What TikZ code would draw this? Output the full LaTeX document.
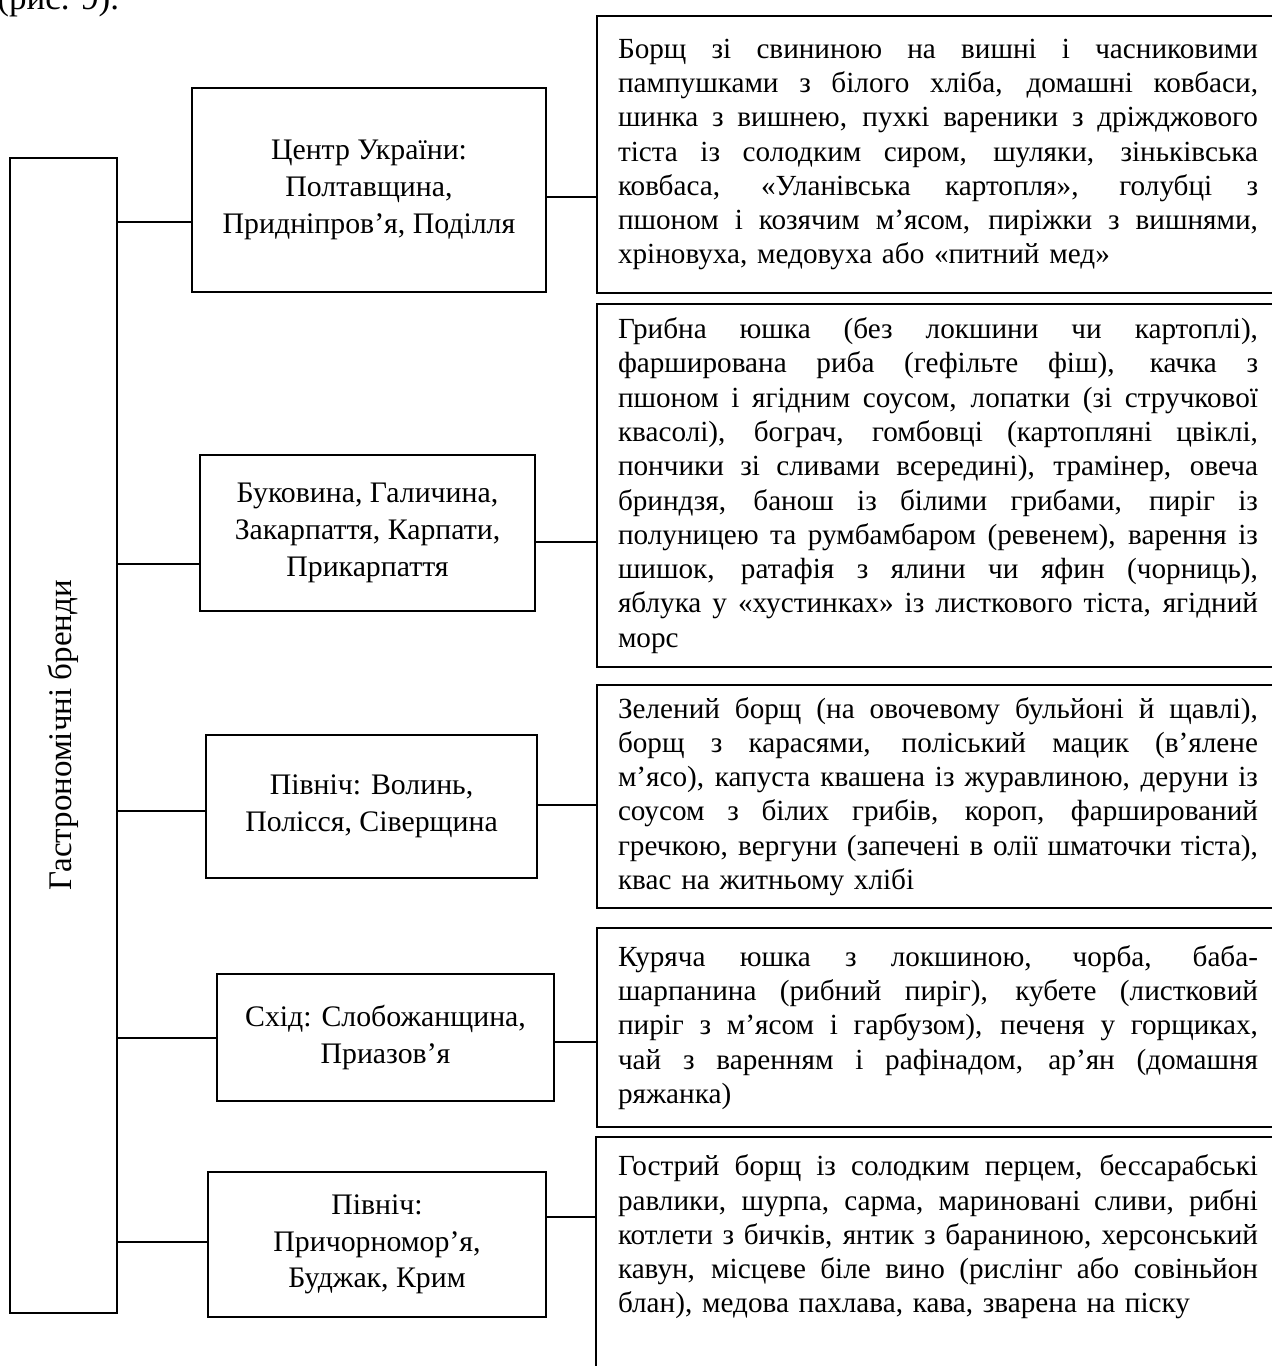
\documentclass[tikz,border=0pt]{standalone}
\usepackage{fontspec}
\setmainfont{Liberation Serif}
\newlength\rw
\setlength\rw{320pt}
\newcommand\jl[1]{\noindent\hbox to\rw{\spaceskip=.25em plus 1fil\relax #1}\par}
\newcommand\lastln[1]{\noindent #1\par}
\begin{document}
\begin{tikzpicture}[x=0.5pt,y=-0.5pt,
  conn/.style={line width=1pt},
  midbox/.style={draw, line width=1pt, align=center, inner sep=0pt,
    font=\fontsize{14.9}{18.3}\selectfont},
  rbox/.style={draw, line width=1pt, anchor=north west, text width=320pt,
    inner xsep=10.5pt, inner ysep=0pt, font=\fontsize{14.6}{17.15}\selectfont},
  tallbox/.style={draw, line width=1pt, rotate=90, inner sep=0pt,
    font=\fontsize{16.5}{19}\selectfont}]
\useasboundingbox (0,0) rectangle (1271,1366);

\node[anchor=base west, inner sep=0pt, font=\fontsize{17.5}{20}\selectfont] (fig) at (-3,9) {(рис. 9).};

\node[tallbox, minimum width=577.5pt, minimum height=53.5pt] (tall) at (63.5,735.5) {Гастрономічні бренди};

\node[midbox, minimum width=177pt, minimum height=102pt] (m1) at (369,190) {Центр України:\\Полтавщина,\\Придніпров’я, Поділля};
\node[midbox, minimum width=167.5pt, minimum height=78pt] (m2) at (367.5,533) {Буковина, Галичина,\\Закарпаття, Карпати,\\Прикарпаття};
\node[midbox, minimum width=165.5pt, minimum height=71.5pt] (m3) at (371.5,806.5) {Північ: Волинь,\\Полісся, Сіверщина};
\node[midbox, minimum width=168.5pt, minimum height=63.5pt] (m4) at (385.5,1037.5) {Схід: Слобожанщина,\\Приазов’я};
\node[midbox, minimum width=169pt, minimum height=72.5pt] (m5) at (377,1244.5) {Північ:\\Причорномор’я,\\Буджак, Крим};

\node[rbox, minimum height=138.5pt] (r1) at (596,15) {%
\jl{Борщ зі свининою на вишні і часниковими}%
\jl{пампушками з білого хліба, домашні ковбаси,}%
\jl{шинка з вишнею, пухкі вареники з дріжджового}%
\jl{тіста із солодким сиром, шуляки, зіньківська}%
\jl{ковбаса, «Уланівська картопля», голубці з}%
\jl{пшоном і козячим м’ясом, пиріжки з вишнями,}%
\lastln{хріновуха, медовуха або «питний мед»}};

\node[rbox, minimum height=181.5pt] (r2) at (596,303) {%
\jl{Грибна юшка (без локшини чи картоплі),}%
\jl{фарширована риба (гефільте фіш), качка з}%
\jl{пшоном і ягідним соусом, лопатки (зі стручкової}%
\jl{квасолі), бограч, гомбовці (картопляні цвіклі,}%
\jl{пончики зі сливами всередині), трамінер, овеча}%
\jl{бриндзя, банош із білими грибами, пиріг із}%
\jl{полуницею та румбамбаром (ревенем), варення із}%
\jl{шишок, ратафія з ялини чи яфин (чорниць),}%
\jl{яблука у «хустинках» із листкового тіста, ягідний}%
\lastln{морс}};

\node[rbox, minimum height=111.5pt] (r3) at (596,684) {%
\jl{Зелений борщ (на овочевому бульйоні й щавлі),}%
\jl{борщ з карасями, поліський мацик (в’ялене}%
\jl{м’ясо), капуста квашена із журавлиною, деруни із}%
\jl{соусом з білих грибів, короп, фарширований}%
\jl{гречкою, вергуни (запечені в олії шматочки тіста),}%
\lastln{квас на житньому хлібі}};

\node[rbox, minimum height=99.5pt] (r4) at (596,927) {%
\jl{Куряча юшка з локшиною, чорба, баба-}%
\jl{шарпанина (рибний пиріг), кубете (листковий}%
\jl{пиріг з м’ясом і гарбузом), печеня у горщиках,}%
\jl{чай з варенням і рафінадом, ар’ян (домашня}%
\lastln{ряжанка)}};

\node[rbox, draw=none, minimum height=99pt] (r5) at (596,1137) {%
\jl{Гострий борщ із солодким перцем, бессарабські}%
\jl{равлики, шурпа, сарма, мариновані сливи, рибні}%
\jl{котлети з бичків, янтик з бараниною, херсонський}%
\jl{кавун, місцеве біле вино (рислінг або совіньйон}%
\lastln{блан), медова пахлава, кава, зварена на піску}};
\draw[conn] (r5.north east) -- (r5.north west) -- (r5.west |- 0,1420);

\draw[conn] (tall.south |- 0,222) -- (m1.west |- 0,222);
\draw[conn] (tall.south |- 0,564) -- (m2.west |- 0,564);
\draw[conn] (tall.south |- 0,811) -- (m3.west |- 0,811);
\draw[conn] (tall.south |- 0,1038) -- (m4.west |- 0,1038);
\draw[conn] (tall.south |- 0,1242) -- (m5.west |- 0,1242);

\draw[conn] (m1.east |- 0,197) -- (r1.west |- 0,197);
\draw[conn] (m2.east |- 0,542) -- (r2.west |- 0,542);
\draw[conn] (m3.east |- 0,805) -- (r3.west |- 0,805);
\draw[conn] (m4.east |- 0,1042) -- (r4.west |- 0,1042);
\draw[conn] (m5.east |- 0,1217) -- (r5.west |- 0,1217);
\end{tikzpicture}
\end{document}
